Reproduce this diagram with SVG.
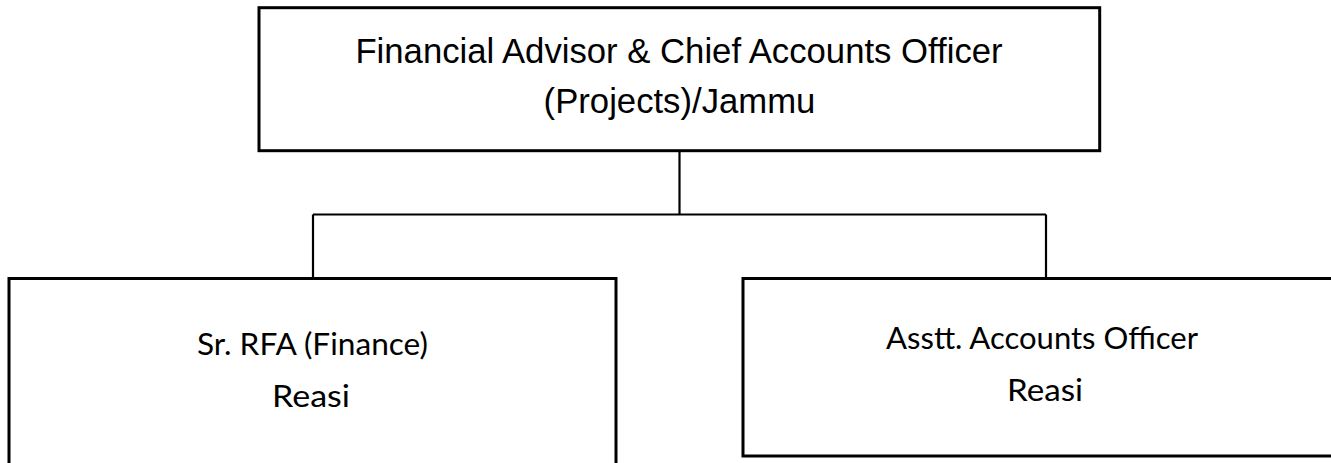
<svg xmlns="http://www.w3.org/2000/svg" width="1331" height="463" viewBox="0 0 1331 463">
<style>
.box{fill:#fff;stroke:#000;stroke-width:3}
.conn{fill:none;stroke:#000;stroke-width:2.2}
.t1{font-family:"Liberation Sans",Arial,sans-serif;font-size:34.7px;fill:#000;text-anchor:middle}
.t2{font-family:Lato,"Open Sans",sans-serif;font-size:30px;fill:#000;text-anchor:middle}
</style>
<rect width="1331" height="463" fill="#fff"/>
<g id="connectors">
<path class="conn" d="M679.5 152 V214.5"/>
<path class="conn" d="M313 214.5 H1046"/>
<path class="conn" d="M313 214.5 V278"/>
<path class="conn" d="M1046 214.5 V278"/>
</g>
<g id="node-fa-cao">
<rect class="box" x="259" y="7.7" width="840.7" height="143"/>
<text class="t1" x="679" y="62.7">Financial Advisor &amp; Chief Accounts Officer</text>
<text class="t1" x="679.5" y="113">(Projects)/Jammu</text>
</g>
<g id="node-sr-rfa">
<rect class="box" x="9" y="278.5" width="607" height="200"/>
<text class="t2" x="312.5" y="355" textLength="231" lengthAdjust="spacingAndGlyphs">Sr. RFA (Finance)</text>
<text class="t2" x="311" y="407" textLength="78" lengthAdjust="spacingAndGlyphs">Reasi</text>
</g>
<g id="node-aao">
<rect class="box" x="743" y="278.5" width="620" height="177.5"/>
<text class="t2" x="1042" y="349" textLength="312" lengthAdjust="spacingAndGlyphs">Asstt. Accounts Officer</text>
<text class="t2" x="1045" y="401" textLength="76" lengthAdjust="spacingAndGlyphs">Reasi</text>
</g>
</svg>
